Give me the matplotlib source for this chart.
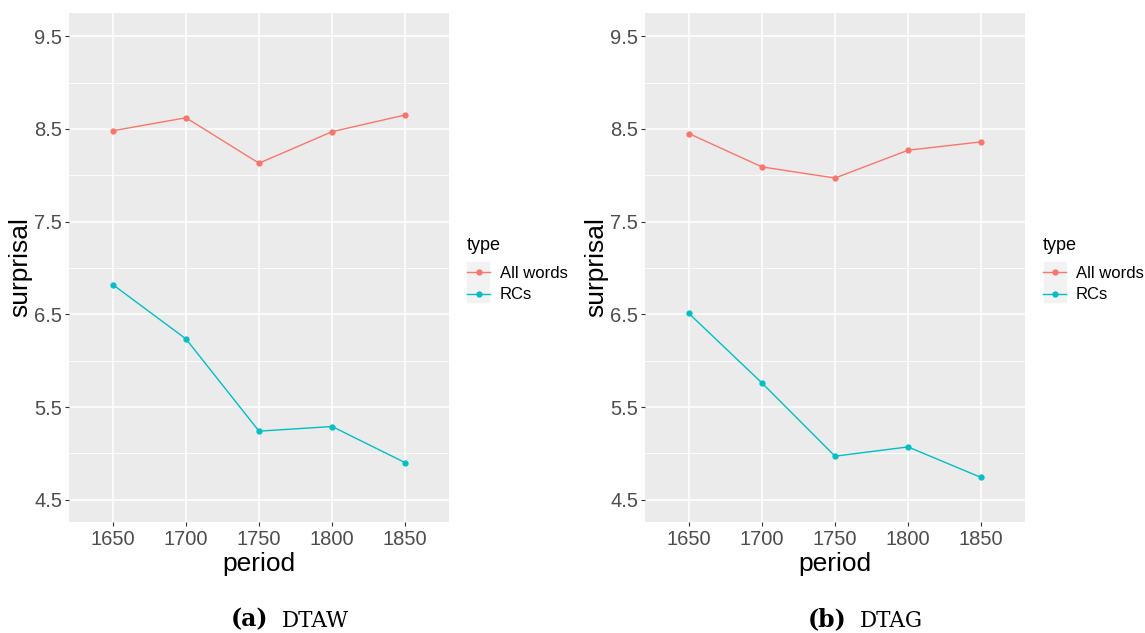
import numpy as np
import matplotlib.pyplot as plt
from matplotlib.patches import Rectangle

# data
periods = [1650, 1700, 1750, 1800, 1850]
dtaw_all = [8.48, 8.62, 8.13, 8.47, 8.65]
dtaw_rcs = [6.82, 6.235, 5.24, 5.29, 4.90]
dtag_all = [8.45, 8.09, 7.97, 8.27, 8.36]
dtag_rcs = [6.51, 5.76, 4.97, 5.07, 4.74]
series_names = ["All words", "RCs"]
yticks = [4.5, 5.5, 6.5, 7.5, 8.5, 9.5]
captions = [("(a)", "DTAW"), ("(b)", "DTAG")]

RED = "#F8766D"
CYAN = "#00BFC4"
plt.rcParams['font.family'] = ['Liberation Sans', 'DejaVu Sans']

fig = plt.figure(figsize=(11.45, 6.33), dpi=100)
W, H = 1145, 633


def panel(left_px, all_words, rcs):
    ax = fig.add_axes([left_px / W, 1 - 522 / H, 380 / W, 509 / H])
    ax.set_facecolor("#EBEBEB")
    for s in ax.spines.values():
        s.set_visible(False)
    ax.set_xlim(1620, 1880)
    ax.set_ylim(4.26, 9.75)
    ax.set_xticks(periods)
    ax.set_yticks(yticks)
    ax.set_yticks([5.0, 6.0, 7.0, 8.0, 9.0], minor=True)
    ax.set_yticklabels(["%.1f" % v for v in yticks])
    ax.grid(True, which="major", color="white", lw=1.1)
    ax.grid(True, which="minor", axis="y", color="white", lw=0.6)
    ax.set_axisbelow(True)
    ax.tick_params(which="major", colors="#333333", labelcolor="#4D4D4D",
                   labelsize=14.5, length=3, width=0.8, pad=2)
    ax.tick_params(axis="x", pad=3)
    ax.tick_params(which="minor", length=0)
    ax.plot(periods, all_words, color=RED, lw=1, marker="o", ms=3.5, label=series_names[0])
    ax.plot(periods, rcs, color=CYAN, lw=1, marker="o", ms=3.5, label=series_names[1])
    ax.set_xlabel("period", fontsize=19, labelpad=2)
    ax.set_ylabel("surprisal", fontsize=19, labelpad=1)
    ax.legend(loc="upper left", bbox_to_anchor=(1 + 18 / 380, (522 - 266) / 509),
              frameon=False, fontsize=12, handlelength=1.4, handletextpad=0.55,
              labelspacing=0.38, borderpad=0, borderaxespad=0)
    fig.text((left_px + 398) / W, 1 - 245 / H, "type", fontsize=13,
             ha="left", va="center")
    return ax


ax1 = panel(69, dtaw_all, dtaw_rcs)
ax2 = panel(645, dtag_all, dtag_rcs)

# grey key backgrounds of the legends
for x0 in (467, 1044):
    fig.patches.append(Rectangle((x0 / W, 1 - 302 / H), 22 / W, 40 / H,
                                 transform=fig.transFigure, color="#F2F2F2", zorder=-1))

for (tag_x, name_x), (tag, name) in zip(((268, 282), (846, 860)), captions):
    fig.text(tag_x / W, 1 - 619 / H, tag, ha="right", va="center",
             fontsize=17, fontweight="bold", family="DejaVu Serif")
    fig.text(name_x / W, 1 - 621 / H, name, ha="left", va="center",
             fontsize=15.5, family="DejaVu Serif")

fig.savefig("out.png", dpi=100)
